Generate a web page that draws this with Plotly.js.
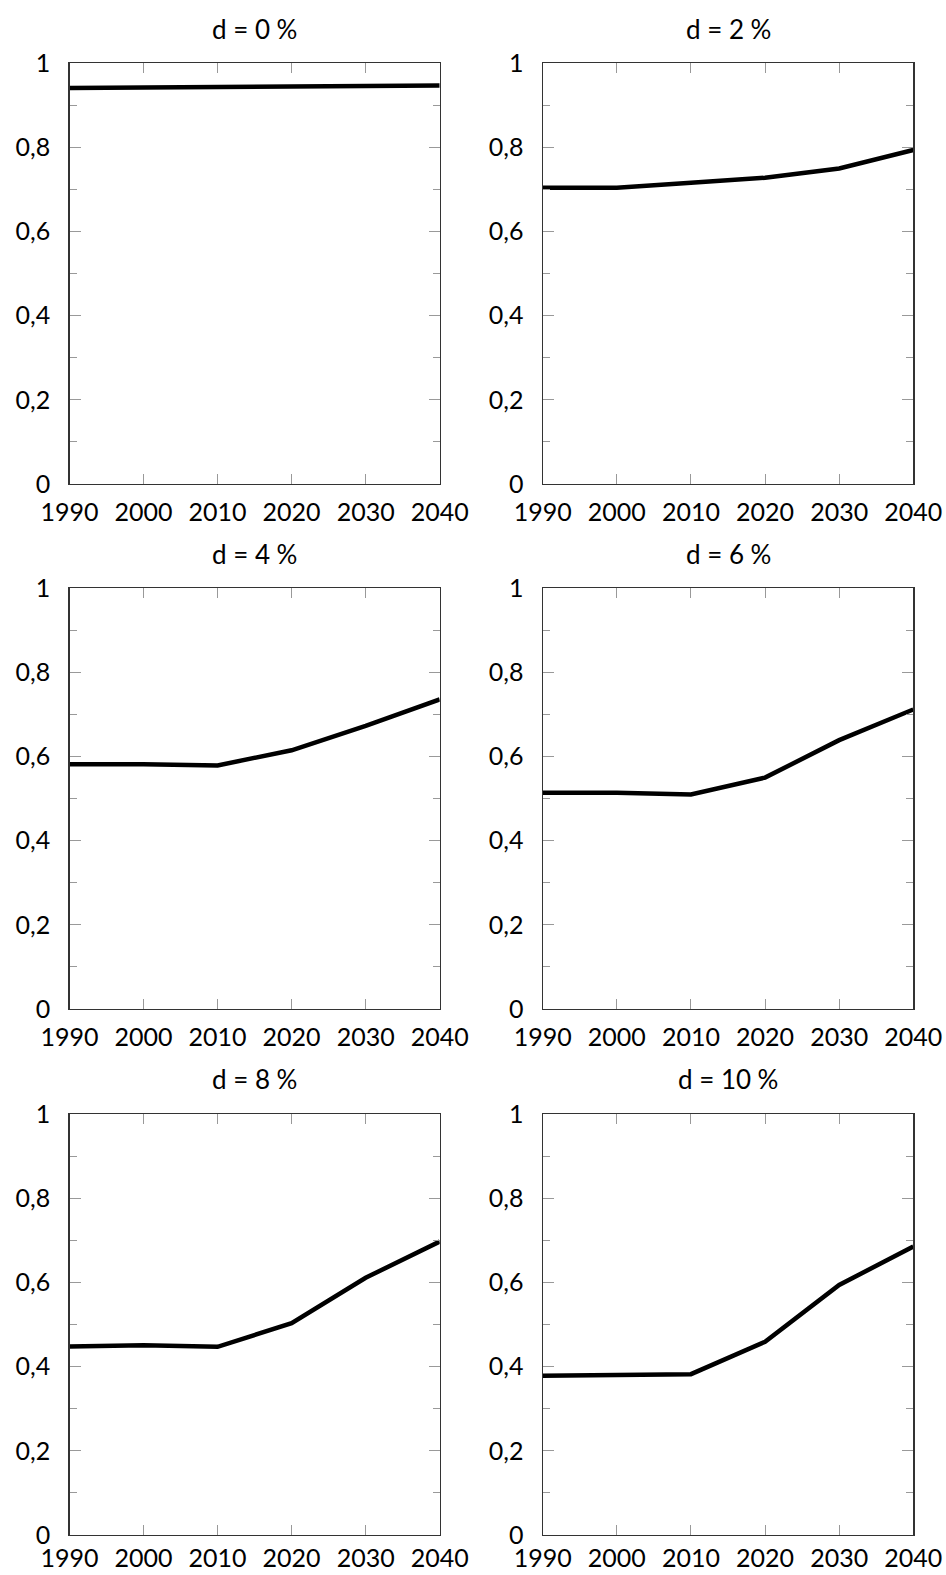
<!DOCTYPE html>
<html>
<head>
<meta charset="utf-8">
<script src="https://cdn.plot.ly/plotly-3.0.1.min.js"></script>
<style>html,body{margin:0;padding:0;background:#fff;}#chart{width:946px;height:1575px;}</style>
</head>
<body>
<div id="chart"></div>
<script>
// ---- data ----
const years = [1990, 2000, 2010, 2020, 2030, 2040];
const yearLabels = ['1990', '2000', '2010', '2020', '2030', '2040'];
const yTickVals = [0, 0.2, 0.4, 0.6, 0.8, 1];
const yTickText = ['0', '0,2', '0,4', '0,6', '0,8', '1'];
const panelTitles = ['d = 0\u2005%', 'd = 2\u2005%', 'd = 4\u2005%', 'd = 6\u2005%', 'd = 8\u2005%', 'd = 10\u2005%'];
const d0  = [0.941, 0.942, 0.943, 0.943, 0.944, 0.947];
const d2  = [0.704, 0.704, 0.716, 0.728, 0.750, 0.794];
const d4  = [0.582, 0.582, 0.579, 0.615, 0.673, 0.736];
const d6  = [0.514, 0.514, 0.510, 0.550, 0.639, 0.712];
const d8  = [0.448, 0.451, 0.447, 0.503, 0.611, 0.697];
const d10 = [0.378, 0.379, 0.382, 0.459, 0.594, 0.685];
const series = [d0, d2, d4, d6, d8, d10];

// ---- layout ----
const W = 946, H = 1575;
const colDom = [[69.5 / W, 439.7 / W], [542.7 / W, 913.3 / W]];
const rowPx = [[63.3, 484], [588.3, 1009], [1114, 1535]];
const rowDom = rowPx.map(r => [1 - r[1] / H, 1 - r[0] / H]);
const titleY = [29.5, 554, 1079].map(v => 1 - v / H);
const xStandoff = [6, 6, 1];
const FONT = 'Lato, "Noto Sans", sans-serif';

const traces = [];
const layout = {
  width: W, height: H,
  margin: {l: 0, r: 0, t: 0, b: 0},
  paper_bgcolor: '#fff', plot_bgcolor: '#fff',
  showlegend: false,
  font: {family: FONT, size: 25, color: '#000'},
  annotations: []
};

series.forEach((vals, i) => {
  const row = Math.floor(i / 2), col = i % 2;
  const n = i === 0 ? '' : String(i + 1);
  traces.push({
    x: years, y: vals, type: 'scatter', mode: 'lines',
    line: {color: '#000', width: 4.5},
    xaxis: 'x' + n, yaxis: 'y' + n, hoverinfo: 'skip'
  });
  layout['xaxis' + n] = {
    domain: colDom[col], anchor: 'y' + n,
    range: [1990, 2040], tickmode: 'array', tickvals: years, ticktext: yearLabels,
    ticks: 'inside', ticklen: 10, tickwidth: 1, tickcolor: '#999',
    showline: true, linecolor: '#333', linewidth: 1.2, mirror: 'allticks',
    showgrid: false, zeroline: false, fixedrange: true,
    ticklabelstandoff: xStandoff[row],
    tickfont: {family: FONT, size: 25, color: '#000'}
  };
  layout['yaxis' + n] = {
    domain: rowDom[row], anchor: 'x' + n,
    range: [0, 1], tickmode: 'array', tickvals: yTickVals, ticktext: yTickText,
    ticks: 'inside', ticklen: 11, tickwidth: 1, tickcolor: '#999',
    minor: {tickmode: 'array', tickvals: [0.1, 0.3, 0.5, 0.7, 0.9], ticks: 'inside', ticklen: 7, tickwidth: 1, tickcolor: '#999', showgrid: false},
    showline: true, linecolor: '#333', linewidth: 1.2, mirror: 'allticks',
    showgrid: false, zeroline: false, fixedrange: true,
    ticklabelstandoff: 13,
    tickfont: {family: FONT, size: 25, color: '#000'}
  };
  layout.annotations.push({
    text: panelTitles[i], showarrow: false,
    xref: 'paper', yref: 'paper',
    x: (colDom[col][0] + colDom[col][1]) / 2, y: titleY[row],
    xanchor: 'center', yanchor: 'middle',
    font: {family: FONT, size: 26, color: '#000'}
  });
});

Plotly.newPlot('chart', traces, layout, {staticPlot: true, displayModeBar: false});
</script>
</body>
</html>
